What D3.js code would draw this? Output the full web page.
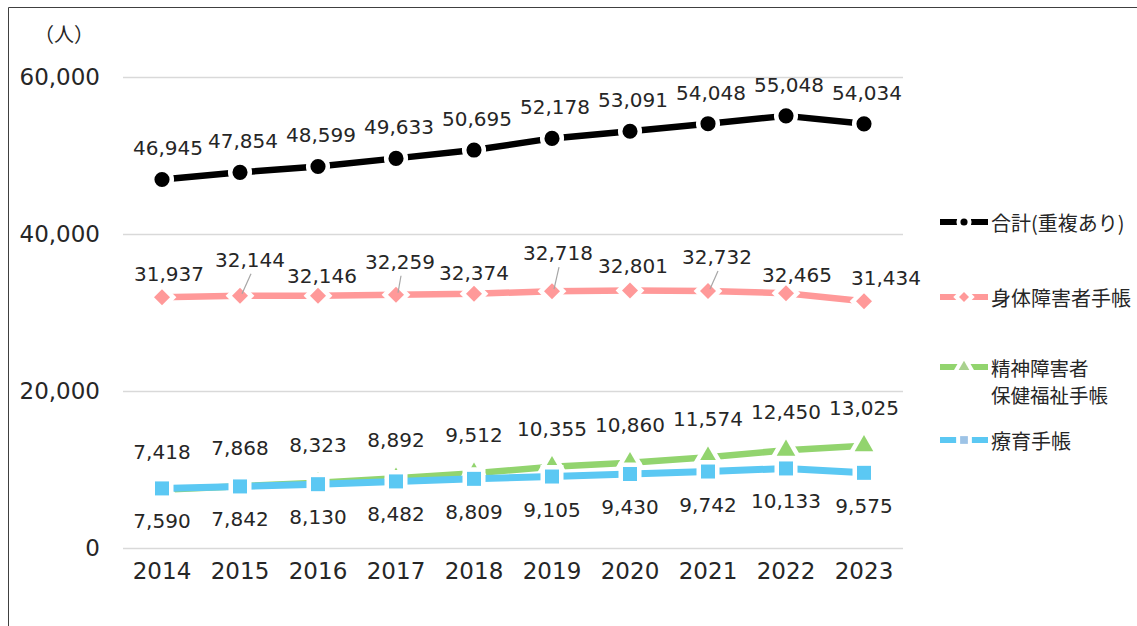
<!DOCTYPE html>
<html><head><meta charset="utf-8">
<script src="https://cdn.jsdelivr.net/npm/d3@7"></script>
<style>body{margin:0;background:#fff}svg{display:block}</style>
</head><body>
<script>
const years = ["2014","2015","2016","2017","2018","2019","2020","2021","2022","2023"];
const total = [46945,47854,48599,49633,50695,52178,53091,54048,55048,54034];
const physical = [31937,32144,32146,32259,32374,32718,32801,32732,32465,31434];
const mental = [7418,7868,8323,8892,9512,10355,10860,11574,12450,13025];
const intellectual = [7590,7842,8130,8482,8809,9105,9430,9742,10133,9575];
const yTicks = [0,20000,40000,60000];
const seriesNames = ["合計(重複あり)","身体障害者手帳",["精神障害者","保健福祉手帳"],"療育手帳"];
const unitLabel = "（人）";

// layout (not data): label offsets for the pink series
const pinkLabelDy = [-23,-36,-20,-33,-21,-38,-25,-34,-18,-23];
const pinkLabelDx = [7,10,4,4,0,6,3,9,11,22];
const pinkLeader = [false,true,false,true,false,true,false,true,false,false];

const W=1137,H=626;
const svg=d3.select("body").append("svg").attr("width",W).attr("height",H);
const numFont="'DejaVu Sans', sans-serif";
const cjkFont="'Noto Sans CJK JP', sans-serif";
const textCol="#262626";

// frame
svg.append("path").attr("d",`M8.5,${H} V7.5 H${W}`).attr("fill","none").attr("stroke","#404040").attr("stroke-width",1);

const x=d3.scaleBand().domain(years).range([123,903]);
const cx=d=>x(d)+x.bandwidth()/2;
const y=d3.scaleLinear().domain([0,60000]).range([548,77]);

// grid
const grid=svg.append("g").attr("transform","translate(123,0)")
  .call(d3.axisLeft(y).tickValues(yTicks).tickSize(-780).tickFormat(""));
grid.select(".domain").remove();
grid.selectAll("line").attr("stroke","#d9d9d9").attr("stroke-width",1.3);

// y axis
const ya=svg.append("g").attr("transform","translate(100,0)")
  .call(d3.axisLeft(y).tickValues(yTicks).tickSize(0).tickPadding(0).tickFormat(d3.format(",")));
ya.select(".domain").remove();
ya.selectAll("text").attr("font-family",numFont).attr("font-size",23).attr("fill",textCol);

// x axis
const xa=svg.append("g").attr("transform","translate(0,548)")
  .call(d3.axisBottom(x).tickSize(0).tickPadding(15));
xa.select(".domain").remove();
xa.selectAll("text").attr("font-family",numFont).attr("font-size",23).attr("fill",textCol);

svg.append("text").attr("x",64).attr("y",42).attr("text-anchor","middle")
  .attr("font-family",cjkFont).attr("font-size",20).attr("fill",textCol).text(unitLabel);

const fmt=d3.format(",");
const series=[
  {vals:total,color:"#000000",sym:d3.symbolCircle,size:180,rot:0,width:6.5,legFill:"#000000",legSize:40},
  {vals:physical,color:"#ff9999",sym:d3.symbolSquare,size:128,rot:45,width:6.5,legFill:"#ff9999",legSize:50},
  {vals:mental,color:"#92d46e",sym:d3.symbolTriangle,size:150,rot:0,width:6.5,legFill:"#a9d18e",legSize:50},
  {vals:intellectual,color:"#5bc8f3",sym:d3.symbolSquare,size:196,rot:0,width:7,legFill:"#9dc3e6",legSize:60}
];

const line=d3.line().x((d,i)=>cx(years[i])).y(d=>y(d));
series.forEach(s=>{
  const g=svg.append("g");
  g.append("path").datum(s.vals).attr("d",line).attr("fill","none")
    .attr("stroke",s.color).attr("stroke-width",s.width).attr("stroke-linejoin","round");
  g.selectAll("path.m").data(s.vals).join("path").attr("class","m")
    .attr("d",d3.symbol(s.sym,s.size))
    .attr("transform",(d,i)=>`translate(${cx(years[i])},${y(d)}) rotate(${s.rot})`)
    .attr("fill",s.color).attr("stroke","#fff").attr("stroke-width",9).attr("paint-order","stroke");
});

function labels(vals,dyFn,dxFn){
  svg.append("g").selectAll("text").data(vals).join("text")
    .attr("x",(d,i)=>cx(years[i])+dxFn(i)).attr("y",(d,i)=>y(d)+dyFn(i))
    .attr("text-anchor","middle").attr("dominant-baseline","central")
    .attr("font-family",numFont).attr("font-size",20).attr("fill",textCol).text(d=>fmt(d));
}
// leader lines for pink
svg.append("g").selectAll("line").data(physical.map((d,i)=>({d,i})).filter(o=>pinkLeader[o.i])).join("line")
  .attr("x1",o=>cx(years[o.i])+pinkLabelDx[o.i]+1).attr("y1",o=>y(o.d)+pinkLabelDy[o.i]+14)
  .attr("x2",o=>cx(years[o.i])+2).attr("y2",o=>y(o.d)-2)
  .attr("stroke","#a6a6a6").attr("stroke-width",1.2);

labels(total,i=>-31,i=>i===0?6:3);
labels(physical,i=>pinkLabelDy[i],i=>pinkLabelDx[i]);
labels(mental,i=>-38,i=>0);
labels(intellectual,i=>33,i=>0);

// legend
const legY=[222,297,367,440];
series.forEach((s,k)=>{
  const g=svg.append("g").attr("transform",`translate(0,${legY[k]})`);
  g.append("line").attr("x1",940).attr("x2",988).attr("y1",0).attr("y2",0)
    .attr("stroke",s.color).attr("stroke-width",6);
  g.append("path").attr("d",d3.symbol(s.sym,s.legSize))
    .attr("transform",`translate(964,0) rotate(${s.rot})`)
    .attr("fill",s.legFill).attr("stroke","#fff").attr("stroke-width",8).attr("paint-order","stroke");
  const names=Array.isArray(seriesNames[k])?seriesNames[k]:[seriesNames[k]];
  names.forEach((n,j)=>g.append("text").attr("x",991).attr("y",j*27)
    .attr("dominant-baseline","central").attr("font-family",cjkFont)
    .attr("font-size",j===0&&names.length>1?19.5:(names.length>1?19.5:20)).attr("fill",textCol).text(n));
});
</script>
</body></html>
